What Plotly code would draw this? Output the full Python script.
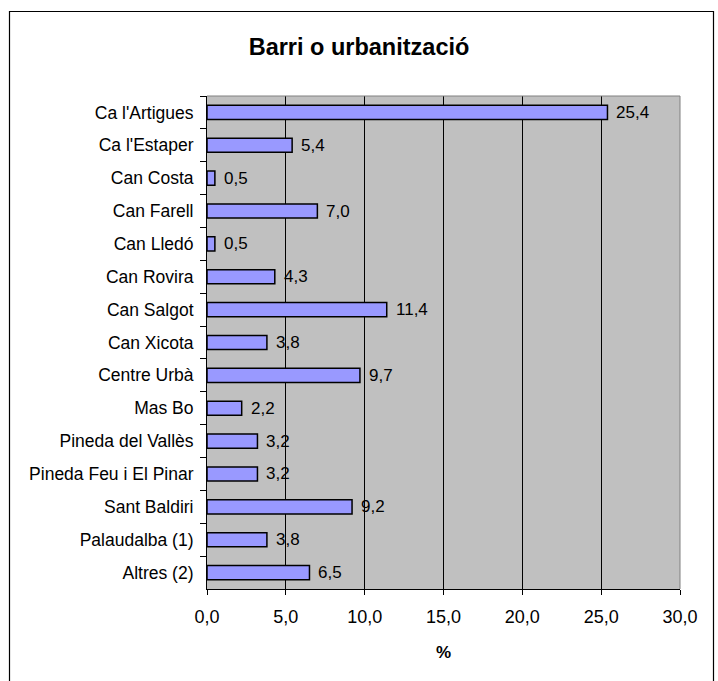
import plotly.graph_objects as go

# Neighbourhood shares (%)
categories = [
    "Ca l'Artigues", "Ca l'Estaper", "Can Costa", "Can Farell", "Can Lledó",
    "Can Rovira", "Can Salgot", "Can Xicota", "Centre Urbà", "Mas Bo",
    "Pineda del Vallès", "Pineda Feu i El Pinar", "Sant Baldiri",
    "Palaudalba (1)", "Altres (2)",
]
values = [25.4, 5.4, 0.5, 7.0, 0.5, 4.3, 11.4, 3.8, 9.7, 2.2, 3.2, 3.2, 9.2, 3.8, 6.5]
x_ticks = [0, 5, 10, 15, 20, 25, 30]

W, H = 718, 681
ML, MR, MT, MB = 207, 38, 96, 92
PW, PH = W - ML - MR, H - MT - MB

FONT = "Liberation Sans, Arial, sans-serif"


def px_x(px):
    return (px - ML) / PW


def px_y(py):
    return (H - MB - py) / PH


fig = go.Figure()
fig.add_trace(go.Bar(
    x=values,
    y=categories,
    orientation="h",
    marker=dict(color="#9999FF", line=dict(color="black", width=1.5)),
    hoverinfo="x+y",
))

# value labels to the right of each bar
for cat, v in zip(categories, values):
    fig.add_annotation(
        x=v, y=cat, xref="x", yref="y",
        text=f"{v:.1f}".replace(".", ","),
        showarrow=False, xanchor="left", yanchor="middle", xshift=7,
        font=dict(family=FONT, size=17, color="black"),
    )

# plot-area frame (top and right edges)
fig.add_shape(type="line", xref="paper", yref="paper", x0=0, x1=1, y0=1, y1=1,
              line=dict(color="#808080", width=1))
fig.add_shape(type="line", xref="paper", yref="paper", x0=1, x1=1, y0=0, y1=1,
              line=dict(color="#808080", width=1))

# outer chart border
fig.add_shape(type="rect", xref="paper", yref="paper",
              x0=px_x(9.5), x1=px_x(713.5), y0=px_y(700), y1=px_y(11.5),
              line=dict(color="black", width=1.2), fillcolor="rgba(0,0,0,0)",
              layer="below")

fig.update_layout(
    width=W, height=H,
    margin=dict(l=ML, r=MR, t=MT, b=MB),
    paper_bgcolor="white",
    plot_bgcolor="#C0C0C0",
    separators=",.",
    bargap=0.57,
    showlegend=False,
    title=dict(
        text="<b>Barri o urbanització</b>",
        x=0.5, xref="container", xanchor="center",
        y=1 - 47 / H, yref="container", yanchor="middle",
        font=dict(family=FONT, size=23.5, color="black"),
    ),
    xaxis=dict(
        range=[0, 30],
        tickvals=x_ticks,
        tickformat=".1f",
        showgrid=True, gridcolor="black", gridwidth=1,
        zeroline=False,
        showline=True, linecolor="black", linewidth=1,
        ticks="outside", ticklen=5, tickcolor="black",
        tickfont=dict(family=FONT, size=18, color="black"),
        ticklabelstandoff=6,
        title=dict(text="<b>%</b>", font=dict(family=FONT, size=17, color="black"),
                   standoff=20),
        fixedrange=True,
    ),
    yaxis=dict(
        categoryorder="array",
        categoryarray=categories,
        autorange="reversed",
        showgrid=False,
        showline=True, linecolor="black", linewidth=1,
        ticks="outside", ticklen=6, tickcolor="black", tickson="boundaries",
        tickfont=dict(family=FONT, size=17.5, color="black"),
        ticklabelstandoff=9,
        fixedrange=True,
    ),
)

fig.write_html("out.html")
